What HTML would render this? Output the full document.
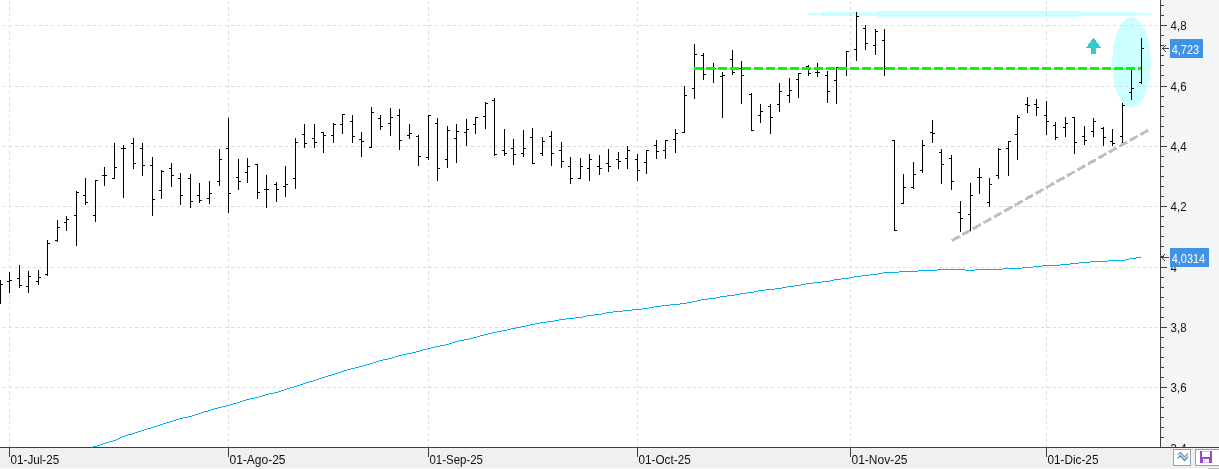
<!DOCTYPE html>
<html lang="es"><head><meta charset="utf-8"><title>Chart</title>
<style>
html,body{margin:0;padding:0;background:#fff;overflow:hidden}
body{width:1219px;height:469px;position:relative;font-family:"Liberation Sans",sans-serif}
svg{position:absolute;left:0;top:0;display:block}
text{font-family:"Liberation Sans",sans-serif;font-size:12.5px;fill:#111}
</style></head><body>
<svg width="1219" height="469" viewBox="0 0 1219 469">

<rect x="0" y="0" width="1219" height="469" fill="#ffffff"/>
<rect x="1161" y="0" width="58" height="447" fill="#f3f5f7" shape-rendering="crispEdges"/>
<rect x="0" y="448" width="1219" height="21" fill="#f0f0f0" shape-rendering="crispEdges"/>
<rect x="0" y="468" width="1208" height="1" fill="#fafafa" shape-rendering="crispEdges"/>
<rect x="1208" y="468" width="11" height="1" fill="#c4c4c4" shape-rendering="crispEdges"/>
<g fill="#ccffff" shape-rendering="crispEdges">
<rect x="808" y="13" width="343" height="2"/>
<rect x="822" y="12" width="315" height="4"/>
<rect x="877" y="11" width="205" height="6"/>
<clipPath id="ce"><rect x="1113" y="0" width="37" height="120"/><rect x="1112" y="57" width="39" height="11"/></clipPath>
<ellipse cx="1131.5" cy="62.5" rx="19.4" ry="45.4" clip-path="url(#ce)"/>
</g>
<g stroke="#dcdcdc" stroke-width="1" shape-rendering="crispEdges" fill="none">
<line x1="3" y1="25.5" x2="1158" y2="25.5" stroke-dasharray="3 3"/>
<line x1="3" y1="86.5" x2="1158" y2="86.5" stroke-dasharray="3 3"/>
<line x1="3" y1="146.5" x2="1158" y2="146.5" stroke-dasharray="3 3"/>
<line x1="3" y1="206.5" x2="1158" y2="206.5" stroke-dasharray="3 3"/>
<line x1="3" y1="267.5" x2="1158" y2="267.5" stroke-dasharray="3 3"/>
<line x1="3" y1="327.5" x2="1158" y2="327.5" stroke-dasharray="3 3"/>
<line x1="3" y1="387.5" x2="1158" y2="387.5" stroke-dasharray="3 3"/>
<line x1="9.5" y1="1" x2="9.5" y2="447" stroke-dasharray="3 3"/>
<line x1="228.5" y1="1" x2="228.5" y2="447" stroke-dasharray="3 3"/>
<line x1="428.5" y1="1" x2="428.5" y2="447" stroke-dasharray="3 3"/>
<line x1="637.5" y1="1" x2="637.5" y2="447" stroke-dasharray="3 3"/>
<line x1="850.5" y1="1" x2="850.5" y2="447" stroke-dasharray="3 3"/>
<line x1="1046.5" y1="1" x2="1046.5" y2="447" stroke-dasharray="3 3"/>
</g>
<g fill="#00aeef" shape-rendering="crispEdges">
<rect x="93" y="446" width="4" height="1"/>
<rect x="97" y="445" width="3" height="1"/>
<rect x="100" y="444" width="3" height="1"/>
<rect x="103" y="443" width="3" height="1"/>
<rect x="106" y="442" width="3" height="1"/>
<rect x="109" y="441" width="4" height="1"/>
<rect x="113" y="440" width="3" height="1"/>
<rect x="116" y="439" width="2" height="1"/>
<rect x="118" y="438" width="2" height="1"/>
<rect x="120" y="437" width="2" height="1"/>
<rect x="122" y="436" width="3" height="1"/>
<rect x="125" y="435" width="3" height="1"/>
<rect x="128" y="434" width="4" height="1"/>
<rect x="132" y="433" width="3" height="1"/>
<rect x="135" y="432" width="3" height="1"/>
<rect x="138" y="431" width="3" height="1"/>
<rect x="141" y="430" width="3" height="1"/>
<rect x="144" y="429" width="3" height="1"/>
<rect x="147" y="428" width="4" height="1"/>
<rect x="151" y="427" width="3" height="1"/>
<rect x="154" y="426" width="3" height="1"/>
<rect x="157" y="425" width="3" height="1"/>
<rect x="160" y="424" width="3" height="1"/>
<rect x="163" y="423" width="3" height="1"/>
<rect x="166" y="422" width="4" height="1"/>
<rect x="170" y="421" width="3" height="1"/>
<rect x="173" y="420" width="3" height="1"/>
<rect x="176" y="419" width="3" height="1"/>
<rect x="179" y="418" width="4" height="1"/>
<rect x="183" y="417" width="5" height="1"/>
<rect x="188" y="416" width="4" height="1"/>
<rect x="192" y="415" width="3" height="1"/>
<rect x="195" y="414" width="3" height="1"/>
<rect x="198" y="413" width="3" height="1"/>
<rect x="201" y="412" width="3" height="1"/>
<rect x="204" y="411" width="4" height="1"/>
<rect x="208" y="410" width="3" height="1"/>
<rect x="211" y="409" width="3" height="1"/>
<rect x="214" y="408" width="4" height="1"/>
<rect x="218" y="407" width="4" height="1"/>
<rect x="222" y="406" width="4" height="1"/>
<rect x="226" y="405" width="4" height="1"/>
<rect x="230" y="404" width="3" height="1"/>
<rect x="233" y="403" width="4" height="1"/>
<rect x="237" y="402" width="3" height="1"/>
<rect x="240" y="401" width="3" height="1"/>
<rect x="243" y="400" width="3" height="1"/>
<rect x="246" y="399" width="4" height="1"/>
<rect x="250" y="398" width="5" height="1"/>
<rect x="255" y="397" width="4" height="1"/>
<rect x="259" y="396" width="3" height="1"/>
<rect x="262" y="395" width="3" height="1"/>
<rect x="265" y="394" width="4" height="1"/>
<rect x="269" y="393" width="5" height="1"/>
<rect x="274" y="392" width="4" height="1"/>
<rect x="278" y="391" width="3" height="1"/>
<rect x="281" y="390" width="3" height="1"/>
<rect x="284" y="389" width="3" height="1"/>
<rect x="287" y="388" width="3" height="1"/>
<rect x="290" y="387" width="4" height="1"/>
<rect x="294" y="386" width="3" height="1"/>
<rect x="297" y="385" width="3" height="1"/>
<rect x="300" y="384" width="3" height="1"/>
<rect x="303" y="383" width="3" height="1"/>
<rect x="306" y="382" width="3" height="1"/>
<rect x="309" y="381" width="4" height="1"/>
<rect x="313" y="380" width="3" height="1"/>
<rect x="316" y="379" width="3" height="1"/>
<rect x="319" y="378" width="3" height="1"/>
<rect x="322" y="377" width="3" height="1"/>
<rect x="325" y="376" width="3" height="1"/>
<rect x="328" y="375" width="4" height="1"/>
<rect x="332" y="374" width="3" height="1"/>
<rect x="335" y="373" width="3" height="1"/>
<rect x="338" y="372" width="3" height="1"/>
<rect x="341" y="371" width="3" height="1"/>
<rect x="344" y="370" width="3" height="1"/>
<rect x="347" y="369" width="4" height="1"/>
<rect x="351" y="368" width="4" height="1"/>
<rect x="355" y="367" width="4" height="1"/>
<rect x="359" y="366" width="4" height="1"/>
<rect x="363" y="365" width="3" height="1"/>
<rect x="366" y="364" width="4" height="1"/>
<rect x="370" y="363" width="3" height="1"/>
<rect x="373" y="362" width="3" height="1"/>
<rect x="376" y="361" width="3" height="1"/>
<rect x="379" y="360" width="4" height="1"/>
<rect x="383" y="359" width="5" height="1"/>
<rect x="388" y="358" width="4" height="1"/>
<rect x="392" y="357" width="3" height="1"/>
<rect x="395" y="356" width="3" height="1"/>
<rect x="398" y="355" width="4" height="1"/>
<rect x="402" y="354" width="5" height="1"/>
<rect x="407" y="353" width="5" height="1"/>
<rect x="412" y="352" width="4" height="1"/>
<rect x="416" y="351" width="4" height="1"/>
<rect x="420" y="350" width="3" height="1"/>
<rect x="423" y="349" width="4" height="1"/>
<rect x="427" y="348" width="4" height="1"/>
<rect x="431" y="347" width="4" height="1"/>
<rect x="435" y="346" width="5" height="1"/>
<rect x="440" y="345" width="5" height="1"/>
<rect x="445" y="344" width="4" height="1"/>
<rect x="449" y="343" width="3" height="1"/>
<rect x="452" y="342" width="3" height="1"/>
<rect x="455" y="341" width="4" height="1"/>
<rect x="459" y="340" width="5" height="1"/>
<rect x="464" y="339" width="5" height="1"/>
<rect x="469" y="338" width="4" height="1"/>
<rect x="473" y="337" width="4" height="1"/>
<rect x="477" y="336" width="3" height="1"/>
<rect x="480" y="335" width="4" height="1"/>
<rect x="484" y="334" width="4" height="1"/>
<rect x="488" y="333" width="4" height="1"/>
<rect x="492" y="332" width="5" height="1"/>
<rect x="497" y="331" width="5" height="1"/>
<rect x="502" y="330" width="5" height="1"/>
<rect x="507" y="329" width="4" height="1"/>
<rect x="511" y="328" width="5" height="1"/>
<rect x="516" y="327" width="5" height="1"/>
<rect x="521" y="326" width="5" height="1"/>
<rect x="526" y="325" width="4" height="1"/>
<rect x="530" y="324" width="5" height="1"/>
<rect x="535" y="323" width="5" height="1"/>
<rect x="540" y="322" width="7" height="1"/>
<rect x="547" y="321" width="7" height="1"/>
<rect x="554" y="320" width="5" height="1"/>
<rect x="559" y="319" width="7" height="1"/>
<rect x="566" y="318" width="9" height="1"/>
<rect x="575" y="317" width="8" height="1"/>
<rect x="583" y="316" width="4" height="1"/>
<rect x="587" y="315" width="7" height="1"/>
<rect x="594" y="314" width="8" height="1"/>
<rect x="602" y="313" width="4" height="1"/>
<rect x="606" y="312" width="7" height="1"/>
<rect x="613" y="311" width="10" height="1"/>
<rect x="623" y="310" width="9" height="1"/>
<rect x="632" y="309" width="10" height="1"/>
<rect x="642" y="308" width="7" height="1"/>
<rect x="649" y="307" width="5" height="1"/>
<rect x="654" y="306" width="7" height="1"/>
<rect x="661" y="305" width="9" height="1"/>
<rect x="670" y="304" width="10" height="1"/>
<rect x="680" y="303" width="7" height="1"/>
<rect x="687" y="302" width="5" height="1"/>
<rect x="692" y="301" width="5" height="1"/>
<rect x="697" y="300" width="4" height="1"/>
<rect x="701" y="299" width="7" height="1"/>
<rect x="708" y="298" width="8" height="1"/>
<rect x="716" y="297" width="4" height="1"/>
<rect x="720" y="296" width="7" height="1"/>
<rect x="727" y="295" width="8" height="1"/>
<rect x="735" y="294" width="5" height="1"/>
<rect x="740" y="293" width="7" height="1"/>
<rect x="747" y="292" width="7" height="1"/>
<rect x="754" y="291" width="4" height="1"/>
<rect x="758" y="290" width="7" height="1"/>
<rect x="765" y="289" width="10" height="1"/>
<rect x="775" y="288" width="7" height="1"/>
<rect x="782" y="287" width="5" height="1"/>
<rect x="787" y="286" width="7" height="1"/>
<rect x="794" y="285" width="7" height="1"/>
<rect x="801" y="284" width="5" height="1"/>
<rect x="806" y="283" width="7" height="1"/>
<rect x="813" y="282" width="9" height="1"/>
<rect x="822" y="281" width="8" height="1"/>
<rect x="830" y="280" width="4" height="1"/>
<rect x="834" y="279" width="7" height="1"/>
<rect x="841" y="278" width="8" height="1"/>
<rect x="849" y="277" width="5" height="1"/>
<rect x="854" y="276" width="7" height="1"/>
<rect x="861" y="275" width="9" height="1"/>
<rect x="870" y="274" width="8" height="1"/>
<rect x="878" y="273" width="5" height="1"/>
<rect x="883" y="272" width="16" height="1"/>
<rect x="899" y="271" width="19" height="1"/>
<rect x="918" y="270" width="19" height="1"/>
<rect x="937" y="269" width="28" height="1"/>
<rect x="965" y="270" width="10" height="1"/>
<rect x="975" y="269" width="28" height="1"/>
<rect x="1003" y="268" width="19" height="1"/>
<rect x="1022" y="267" width="11" height="1"/>
<rect x="1033" y="266" width="9" height="1"/>
<rect x="1042" y="265" width="18" height="1"/>
<rect x="1060" y="264" width="10" height="1"/>
<rect x="1070" y="263" width="9" height="1"/>
<rect x="1079" y="262" width="11" height="1"/>
<rect x="1090" y="261" width="18" height="1"/>
<rect x="1108" y="260" width="17" height="1"/>
<rect x="1125" y="259" width="4" height="1"/>
<rect x="1129" y="258" width="7" height="1"/>
<rect x="1136" y="257" width="5" height="1"/>
</g>
<g fill="#000" shape-rendering="crispEdges">
<rect x="0" y="280" width="1" height="24"/>
<rect x="1" y="284" width="2" height="1"/>
<rect x="9" y="272" width="1" height="21"/>
<rect x="7" y="281" width="2" height="1"/>
<rect x="10" y="280" width="2" height="1"/>
<rect x="19" y="265" width="1" height="23"/>
<rect x="17" y="278" width="2" height="1"/>
<rect x="20" y="285" width="2" height="1"/>
<rect x="28" y="271" width="1" height="22"/>
<rect x="26" y="286" width="2" height="1"/>
<rect x="29" y="276" width="2" height="1"/>
<rect x="38" y="270" width="1" height="15"/>
<rect x="36" y="281" width="2" height="1"/>
<rect x="39" y="277" width="2" height="1"/>
<rect x="47" y="240" width="1" height="36"/>
<rect x="45" y="274" width="2" height="1"/>
<rect x="48" y="243" width="2" height="1"/>
<rect x="57" y="220" width="1" height="22"/>
<rect x="55" y="240" width="2" height="1"/>
<rect x="58" y="227" width="2" height="1"/>
<rect x="66" y="216" width="1" height="15"/>
<rect x="64" y="222" width="2" height="1"/>
<rect x="67" y="219" width="2" height="1"/>
<rect x="76" y="191" width="1" height="55"/>
<rect x="74" y="215" width="2" height="1"/>
<rect x="77" y="192" width="2" height="1"/>
<rect x="85" y="178" width="1" height="27"/>
<rect x="83" y="195" width="2" height="1"/>
<rect x="86" y="202" width="2" height="1"/>
<rect x="95" y="180" width="1" height="42"/>
<rect x="93" y="215" width="2" height="1"/>
<rect x="96" y="180" width="2" height="1"/>
<rect x="104" y="167" width="1" height="19"/>
<rect x="102" y="175" width="2" height="1"/>
<rect x="105" y="175" width="2" height="1"/>
<rect x="114" y="143" width="1" height="36"/>
<rect x="112" y="178" width="2" height="1"/>
<rect x="115" y="167" width="2" height="1"/>
<rect x="123" y="145" width="1" height="53"/>
<rect x="121" y="148" width="2" height="1"/>
<rect x="124" y="148" width="2" height="1"/>
<rect x="133" y="138" width="1" height="31"/>
<rect x="131" y="143" width="2" height="1"/>
<rect x="134" y="163" width="2" height="1"/>
<rect x="142" y="143" width="1" height="33"/>
<rect x="140" y="148" width="2" height="1"/>
<rect x="143" y="165" width="2" height="1"/>
<rect x="152" y="157" width="1" height="59"/>
<rect x="150" y="165" width="2" height="1"/>
<rect x="153" y="199" width="2" height="1"/>
<rect x="161" y="170" width="1" height="29"/>
<rect x="159" y="190" width="2" height="1"/>
<rect x="162" y="171" width="2" height="1"/>
<rect x="171" y="163" width="1" height="24"/>
<rect x="169" y="168" width="2" height="1"/>
<rect x="172" y="175" width="2" height="1"/>
<rect x="180" y="173" width="1" height="32"/>
<rect x="178" y="178" width="2" height="1"/>
<rect x="181" y="195" width="2" height="1"/>
<rect x="190" y="174" width="1" height="34"/>
<rect x="188" y="178" width="2" height="1"/>
<rect x="191" y="201" width="2" height="1"/>
<rect x="199" y="183" width="1" height="20"/>
<rect x="197" y="195" width="2" height="1"/>
<rect x="200" y="200" width="2" height="1"/>
<rect x="209" y="181" width="1" height="23"/>
<rect x="207" y="198" width="2" height="1"/>
<rect x="210" y="193" width="2" height="1"/>
<rect x="219" y="149" width="1" height="37"/>
<rect x="217" y="181" width="2" height="1"/>
<rect x="220" y="159" width="2" height="1"/>
<rect x="228" y="118" width="1" height="95"/>
<rect x="226" y="148" width="2" height="1"/>
<rect x="229" y="193" width="2" height="1"/>
<rect x="238" y="159" width="1" height="31"/>
<rect x="236" y="177" width="2" height="1"/>
<rect x="239" y="181" width="2" height="1"/>
<rect x="247" y="158" width="1" height="25"/>
<rect x="245" y="172" width="2" height="1"/>
<rect x="248" y="166" width="2" height="1"/>
<rect x="257" y="164" width="1" height="35"/>
<rect x="255" y="164" width="2" height="1"/>
<rect x="258" y="192" width="2" height="1"/>
<rect x="266" y="175" width="1" height="33"/>
<rect x="264" y="189" width="2" height="1"/>
<rect x="267" y="189" width="2" height="1"/>
<rect x="276" y="182" width="1" height="20"/>
<rect x="274" y="184" width="2" height="1"/>
<rect x="277" y="189" width="2" height="1"/>
<rect x="285" y="166" width="1" height="31"/>
<rect x="283" y="186" width="2" height="1"/>
<rect x="286" y="184" width="2" height="1"/>
<rect x="295" y="138" width="1" height="51"/>
<rect x="293" y="178" width="2" height="1"/>
<rect x="296" y="142" width="2" height="1"/>
<rect x="304" y="124" width="1" height="24"/>
<rect x="302" y="134" width="2" height="1"/>
<rect x="305" y="143" width="2" height="1"/>
<rect x="314" y="124" width="1" height="24"/>
<rect x="312" y="138" width="2" height="1"/>
<rect x="315" y="142" width="2" height="1"/>
<rect x="323" y="132" width="1" height="21"/>
<rect x="321" y="132" width="2" height="1"/>
<rect x="324" y="135" width="2" height="1"/>
<rect x="333" y="123" width="1" height="20"/>
<rect x="331" y="135" width="2" height="1"/>
<rect x="334" y="124" width="2" height="1"/>
<rect x="342" y="114" width="1" height="20"/>
<rect x="340" y="124" width="2" height="1"/>
<rect x="343" y="114" width="2" height="1"/>
<rect x="352" y="115" width="1" height="28"/>
<rect x="350" y="121" width="2" height="1"/>
<rect x="353" y="136" width="2" height="1"/>
<rect x="361" y="132" width="1" height="25"/>
<rect x="359" y="139" width="2" height="1"/>
<rect x="362" y="141" width="2" height="1"/>
<rect x="371" y="107" width="1" height="41"/>
<rect x="369" y="147" width="2" height="1"/>
<rect x="372" y="112" width="2" height="1"/>
<rect x="380" y="115" width="1" height="15"/>
<rect x="378" y="118" width="2" height="1"/>
<rect x="381" y="126" width="2" height="1"/>
<rect x="390" y="108" width="1" height="28"/>
<rect x="388" y="123" width="2" height="1"/>
<rect x="391" y="117" width="2" height="1"/>
<rect x="399" y="109" width="1" height="41"/>
<rect x="397" y="115" width="2" height="1"/>
<rect x="400" y="140" width="2" height="1"/>
<rect x="409" y="124" width="1" height="15"/>
<rect x="407" y="135" width="2" height="1"/>
<rect x="410" y="133" width="2" height="1"/>
<rect x="418" y="135" width="1" height="31"/>
<rect x="416" y="136" width="2" height="1"/>
<rect x="419" y="156" width="2" height="1"/>
<rect x="428" y="115" width="1" height="45"/>
<rect x="426" y="157" width="2" height="1"/>
<rect x="429" y="115" width="2" height="1"/>
<rect x="437" y="118" width="1" height="63"/>
<rect x="435" y="123" width="2" height="1"/>
<rect x="438" y="168" width="2" height="1"/>
<rect x="447" y="126" width="1" height="42"/>
<rect x="445" y="159" width="2" height="1"/>
<rect x="448" y="130" width="2" height="1"/>
<rect x="456" y="124" width="1" height="39"/>
<rect x="454" y="138" width="2" height="1"/>
<rect x="457" y="131" width="2" height="1"/>
<rect x="466" y="119" width="1" height="27"/>
<rect x="464" y="132" width="2" height="1"/>
<rect x="467" y="129" width="2" height="1"/>
<rect x="475" y="117" width="1" height="17"/>
<rect x="473" y="124" width="2" height="1"/>
<rect x="476" y="117" width="2" height="1"/>
<rect x="485" y="102" width="1" height="27"/>
<rect x="483" y="116" width="2" height="1"/>
<rect x="486" y="103" width="2" height="1"/>
<rect x="494" y="98" width="1" height="58"/>
<rect x="492" y="100" width="2" height="1"/>
<rect x="495" y="154" width="2" height="1"/>
<rect x="504" y="129" width="1" height="27"/>
<rect x="502" y="150" width="2" height="1"/>
<rect x="505" y="153" width="2" height="1"/>
<rect x="513" y="139" width="1" height="26"/>
<rect x="511" y="148" width="2" height="1"/>
<rect x="514" y="154" width="2" height="1"/>
<rect x="523" y="130" width="1" height="27"/>
<rect x="521" y="153" width="2" height="1"/>
<rect x="524" y="148" width="2" height="1"/>
<rect x="532" y="128" width="1" height="36"/>
<rect x="530" y="137" width="2" height="1"/>
<rect x="533" y="163" width="2" height="1"/>
<rect x="542" y="137" width="1" height="19"/>
<rect x="540" y="153" width="2" height="1"/>
<rect x="543" y="141" width="2" height="1"/>
<rect x="551" y="131" width="1" height="35"/>
<rect x="549" y="136" width="2" height="1"/>
<rect x="552" y="153" width="2" height="1"/>
<rect x="561" y="142" width="1" height="26"/>
<rect x="559" y="150" width="2" height="1"/>
<rect x="562" y="161" width="2" height="1"/>
<rect x="570" y="157" width="1" height="27"/>
<rect x="568" y="166" width="2" height="1"/>
<rect x="571" y="178" width="2" height="1"/>
<rect x="580" y="158" width="1" height="21"/>
<rect x="578" y="178" width="2" height="1"/>
<rect x="581" y="166" width="2" height="1"/>
<rect x="589" y="154" width="1" height="27"/>
<rect x="587" y="168" width="2" height="1"/>
<rect x="590" y="159" width="2" height="1"/>
<rect x="599" y="155" width="1" height="20"/>
<rect x="597" y="166" width="2" height="1"/>
<rect x="600" y="168" width="2" height="1"/>
<rect x="608" y="149" width="1" height="23"/>
<rect x="606" y="163" width="2" height="1"/>
<rect x="609" y="166" width="2" height="1"/>
<rect x="618" y="152" width="1" height="17"/>
<rect x="616" y="159" width="2" height="1"/>
<rect x="619" y="161" width="2" height="1"/>
<rect x="627" y="146" width="1" height="23"/>
<rect x="625" y="158" width="2" height="1"/>
<rect x="628" y="150" width="2" height="1"/>
<rect x="637" y="154" width="1" height="27"/>
<rect x="635" y="159" width="2" height="1"/>
<rect x="638" y="170" width="2" height="1"/>
<rect x="646" y="150" width="1" height="24"/>
<rect x="644" y="162" width="2" height="1"/>
<rect x="647" y="150" width="2" height="1"/>
<rect x="656" y="140" width="1" height="19"/>
<rect x="654" y="145" width="2" height="1"/>
<rect x="657" y="151" width="2" height="1"/>
<rect x="665" y="140" width="1" height="19"/>
<rect x="663" y="150" width="2" height="1"/>
<rect x="666" y="140" width="2" height="1"/>
<rect x="675" y="129" width="1" height="24"/>
<rect x="673" y="139" width="2" height="1"/>
<rect x="676" y="133" width="2" height="1"/>
<rect x="684" y="86" width="1" height="47"/>
<rect x="682" y="132" width="2" height="1"/>
<rect x="685" y="95" width="2" height="1"/>
<rect x="694" y="44" width="1" height="55"/>
<rect x="692" y="88" width="2" height="1"/>
<rect x="695" y="54" width="2" height="1"/>
<rect x="703" y="53" width="1" height="27"/>
<rect x="701" y="55" width="2" height="1"/>
<rect x="704" y="74" width="2" height="1"/>
<rect x="713" y="63" width="1" height="20"/>
<rect x="711" y="68" width="2" height="1"/>
<rect x="714" y="68" width="2" height="1"/>
<rect x="722" y="72" width="1" height="46"/>
<rect x="720" y="76" width="2" height="1"/>
<rect x="723" y="75" width="2" height="1"/>
<rect x="732" y="50" width="1" height="25"/>
<rect x="730" y="59" width="2" height="1"/>
<rect x="733" y="72" width="2" height="1"/>
<rect x="741" y="61" width="1" height="43"/>
<rect x="739" y="68" width="2" height="1"/>
<rect x="742" y="75" width="2" height="1"/>
<rect x="751" y="93" width="1" height="38"/>
<rect x="749" y="94" width="2" height="1"/>
<rect x="752" y="130" width="2" height="1"/>
<rect x="760" y="104" width="1" height="19"/>
<rect x="758" y="115" width="2" height="1"/>
<rect x="761" y="111" width="2" height="1"/>
<rect x="770" y="104" width="1" height="30"/>
<rect x="768" y="106" width="2" height="1"/>
<rect x="771" y="117" width="2" height="1"/>
<rect x="779" y="83" width="1" height="29"/>
<rect x="777" y="104" width="2" height="1"/>
<rect x="780" y="91" width="2" height="1"/>
<rect x="789" y="78" width="1" height="25"/>
<rect x="787" y="95" width="2" height="1"/>
<rect x="790" y="90" width="2" height="1"/>
<rect x="798" y="73" width="1" height="25"/>
<rect x="796" y="79" width="2" height="1"/>
<rect x="799" y="73" width="2" height="1"/>
<rect x="808" y="65" width="1" height="11"/>
<rect x="806" y="66" width="2" height="1"/>
<rect x="809" y="73" width="2" height="1"/>
<rect x="817" y="63" width="1" height="14"/>
<rect x="815" y="72" width="2" height="1"/>
<rect x="818" y="72" width="2" height="1"/>
<rect x="827" y="71" width="1" height="32"/>
<rect x="825" y="75" width="2" height="1"/>
<rect x="828" y="91" width="2" height="1"/>
<rect x="836" y="67" width="1" height="37"/>
<rect x="834" y="80" width="2" height="1"/>
<rect x="837" y="67" width="2" height="1"/>
<rect x="846" y="51" width="1" height="25"/>
<rect x="844" y="68" width="2" height="1"/>
<rect x="847" y="51" width="2" height="1"/>
<rect x="856" y="12" width="1" height="49"/>
<rect x="854" y="49" width="2" height="1"/>
<rect x="857" y="16" width="2" height="1"/>
<rect x="865" y="25" width="1" height="25"/>
<rect x="863" y="28" width="2" height="1"/>
<rect x="866" y="43" width="2" height="1"/>
<rect x="875" y="29" width="1" height="26"/>
<rect x="873" y="45" width="2" height="1"/>
<rect x="876" y="31" width="2" height="1"/>
<rect x="884" y="29" width="1" height="47"/>
<rect x="882" y="40" width="2" height="1"/>
<rect x="885" y="68" width="2" height="1"/>
<rect x="894" y="140" width="1" height="91"/>
<rect x="892" y="140" width="2" height="1"/>
<rect x="895" y="230" width="2" height="1"/>
<rect x="903" y="174" width="1" height="30"/>
<rect x="901" y="203" width="2" height="1"/>
<rect x="904" y="187" width="2" height="1"/>
<rect x="913" y="162" width="1" height="27"/>
<rect x="911" y="187" width="2" height="1"/>
<rect x="914" y="174" width="2" height="1"/>
<rect x="922" y="140" width="1" height="33"/>
<rect x="920" y="170" width="2" height="1"/>
<rect x="923" y="145" width="2" height="1"/>
<rect x="932" y="120" width="1" height="23"/>
<rect x="930" y="132" width="2" height="1"/>
<rect x="933" y="133" width="2" height="1"/>
<rect x="941" y="149" width="1" height="35"/>
<rect x="939" y="152" width="2" height="1"/>
<rect x="942" y="164" width="2" height="1"/>
<rect x="951" y="155" width="1" height="35"/>
<rect x="949" y="158" width="2" height="1"/>
<rect x="952" y="181" width="2" height="1"/>
<rect x="960" y="201" width="1" height="31"/>
<rect x="958" y="212" width="2" height="1"/>
<rect x="961" y="218" width="2" height="1"/>
<rect x="970" y="183" width="1" height="48"/>
<rect x="968" y="214" width="2" height="1"/>
<rect x="971" y="195" width="2" height="1"/>
<rect x="979" y="168" width="1" height="26"/>
<rect x="977" y="177" width="2" height="1"/>
<rect x="980" y="177" width="2" height="1"/>
<rect x="989" y="178" width="1" height="29"/>
<rect x="987" y="202" width="2" height="1"/>
<rect x="990" y="184" width="2" height="1"/>
<rect x="998" y="148" width="1" height="31"/>
<rect x="996" y="175" width="2" height="1"/>
<rect x="999" y="149" width="2" height="1"/>
<rect x="1008" y="141" width="1" height="35"/>
<rect x="1006" y="148" width="2" height="1"/>
<rect x="1009" y="141" width="2" height="1"/>
<rect x="1017" y="115" width="1" height="45"/>
<rect x="1015" y="134" width="2" height="1"/>
<rect x="1018" y="117" width="2" height="1"/>
<rect x="1027" y="97" width="1" height="16"/>
<rect x="1025" y="104" width="2" height="1"/>
<rect x="1028" y="105" width="2" height="1"/>
<rect x="1036" y="99" width="1" height="17"/>
<rect x="1034" y="104" width="2" height="1"/>
<rect x="1037" y="107" width="2" height="1"/>
<rect x="1046" y="101" width="1" height="34"/>
<rect x="1044" y="115" width="2" height="1"/>
<rect x="1047" y="121" width="2" height="1"/>
<rect x="1055" y="122" width="1" height="18"/>
<rect x="1053" y="125" width="2" height="1"/>
<rect x="1056" y="137" width="2" height="1"/>
<rect x="1065" y="117" width="1" height="20"/>
<rect x="1063" y="127" width="2" height="1"/>
<rect x="1066" y="123" width="2" height="1"/>
<rect x="1074" y="117" width="1" height="37"/>
<rect x="1072" y="117" width="2" height="1"/>
<rect x="1075" y="142" width="2" height="1"/>
<rect x="1084" y="126" width="1" height="19"/>
<rect x="1082" y="136" width="2" height="1"/>
<rect x="1085" y="140" width="2" height="1"/>
<rect x="1093" y="118" width="1" height="19"/>
<rect x="1091" y="131" width="2" height="1"/>
<rect x="1094" y="121" width="2" height="1"/>
<rect x="1103" y="127" width="1" height="19"/>
<rect x="1101" y="128" width="2" height="1"/>
<rect x="1104" y="137" width="2" height="1"/>
<rect x="1112" y="129" width="1" height="17"/>
<rect x="1110" y="141" width="2" height="1"/>
<rect x="1113" y="143" width="2" height="1"/>
<rect x="1122" y="103" width="1" height="40"/>
<rect x="1120" y="136" width="2" height="1"/>
<rect x="1123" y="105" width="2" height="1"/>
<rect x="1131" y="70" width="1" height="30"/>
<rect x="1129" y="92" width="2" height="1"/>
<rect x="1132" y="88" width="2" height="1"/>
<rect x="1141" y="38" width="1" height="46"/>
<rect x="1139" y="82" width="2" height="1"/>
<rect x="1142" y="48" width="2" height="1"/>
</g>
<line x1="952" y1="240.6" x2="1148" y2="130.3" stroke="#c0c0c0" stroke-width="3" stroke-dasharray="9 3" shape-rendering="crispEdges"/>
<g fill="#00ff00" shape-rendering="crispEdges">
<rect x="694" y="67" width="9" height="3"/>
<rect x="706" y="67" width="9" height="3"/>
<rect x="718" y="67" width="9" height="3"/>
<rect x="730" y="67" width="9" height="3"/>
<rect x="742" y="67" width="9" height="3"/>
<rect x="754" y="67" width="9" height="3"/>
<rect x="766" y="67" width="9" height="3"/>
<rect x="778" y="67" width="9" height="3"/>
<rect x="790" y="67" width="9" height="3"/>
<rect x="802" y="67" width="9" height="3"/>
<rect x="814" y="67" width="9" height="3"/>
<rect x="826" y="67" width="9" height="3"/>
<rect x="838" y="67" width="9" height="3"/>
<rect x="850" y="67" width="9" height="3"/>
<rect x="862" y="67" width="9" height="3"/>
<rect x="874" y="67" width="9" height="3"/>
<rect x="886" y="67" width="9" height="3"/>
<rect x="898" y="67" width="9" height="3"/>
<rect x="910" y="67" width="9" height="3"/>
<rect x="922" y="67" width="9" height="3"/>
<rect x="934" y="67" width="9" height="3"/>
<rect x="946" y="67" width="9" height="3"/>
<rect x="958" y="67" width="9" height="3"/>
<rect x="970" y="67" width="9" height="3"/>
<rect x="982" y="67" width="9" height="3"/>
<rect x="994" y="67" width="9" height="3"/>
<rect x="1006" y="67" width="9" height="3"/>
<rect x="1018" y="67" width="9" height="3"/>
<rect x="1030" y="67" width="9" height="3"/>
<rect x="1042" y="67" width="9" height="3"/>
<rect x="1054" y="67" width="9" height="3"/>
<rect x="1066" y="67" width="9" height="3"/>
<rect x="1078" y="67" width="9" height="3"/>
<rect x="1090" y="67" width="9" height="3"/>
<rect x="1102" y="67" width="9" height="3"/>
<rect x="1114" y="67" width="9" height="3"/>
<rect x="1126" y="67" width="9" height="3"/>
<rect x="1138" y="67" width="3" height="3"/>
</g>
<g fill="#33cccc" shape-rendering="crispEdges">
<rect x="1093" y="38" width="1" height="1"/>
<rect x="1092" y="39" width="3" height="1"/>
<rect x="1091" y="40" width="5" height="1"/>
<rect x="1091" y="41" width="5" height="1"/>
<rect x="1090" y="42" width="7" height="1"/>
<rect x="1089" y="43" width="9" height="1"/>
<rect x="1088" y="44" width="11" height="1"/>
<rect x="1088" y="45" width="11" height="1"/>
<rect x="1087" y="46" width="13" height="1"/>
<rect x="1086" y="47" width="15" height="1"/>
<rect x="1091" y="48" width="5" height="6"/></g>
<g fill="#404040" shape-rendering="crispEdges">
<rect x="1160" y="0" width="1" height="448"/>
<rect x="0" y="447" width="1219" height="1"/>
<rect x="9" y="447" width="1" height="10"/>
<rect x="228" y="447" width="1" height="10"/>
<rect x="428" y="447" width="1" height="10"/>
<rect x="637" y="447" width="1" height="10"/>
<rect x="850" y="447" width="1" height="10"/>
<rect x="1046" y="447" width="1" height="10"/>
<rect x="1161" y="5" width="3" height="1"/>
<rect x="1161" y="15" width="3" height="1"/>
<rect x="1161" y="25" width="6" height="1"/>
<rect x="1161" y="35" width="3" height="1"/>
<rect x="1161" y="45" width="3" height="1"/>
<rect x="1161" y="55" width="3" height="1"/>
<rect x="1161" y="65" width="3" height="1"/>
<rect x="1161" y="75" width="3" height="1"/>
<rect x="1161" y="86" width="6" height="1"/>
<rect x="1161" y="96" width="3" height="1"/>
<rect x="1161" y="106" width="3" height="1"/>
<rect x="1161" y="116" width="3" height="1"/>
<rect x="1161" y="126" width="3" height="1"/>
<rect x="1161" y="136" width="3" height="1"/>
<rect x="1161" y="146" width="6" height="1"/>
<rect x="1161" y="156" width="3" height="1"/>
<rect x="1161" y="166" width="3" height="1"/>
<rect x="1161" y="176" width="3" height="1"/>
<rect x="1161" y="186" width="3" height="1"/>
<rect x="1161" y="196" width="3" height="1"/>
<rect x="1161" y="206" width="6" height="1"/>
<rect x="1161" y="216" width="3" height="1"/>
<rect x="1161" y="226" width="3" height="1"/>
<rect x="1161" y="236" width="3" height="1"/>
<rect x="1161" y="246" width="3" height="1"/>
<rect x="1161" y="256" width="3" height="1"/>
<rect x="1161" y="267" width="6" height="1"/>
<rect x="1161" y="277" width="3" height="1"/>
<rect x="1161" y="287" width="3" height="1"/>
<rect x="1161" y="297" width="3" height="1"/>
<rect x="1161" y="307" width="3" height="1"/>
<rect x="1161" y="317" width="3" height="1"/>
<rect x="1161" y="327" width="6" height="1"/>
<rect x="1161" y="337" width="3" height="1"/>
<rect x="1161" y="347" width="3" height="1"/>
<rect x="1161" y="357" width="3" height="1"/>
<rect x="1161" y="367" width="3" height="1"/>
<rect x="1161" y="377" width="3" height="1"/>
<rect x="1161" y="387" width="6" height="1"/>
<rect x="1161" y="397" width="3" height="1"/>
<rect x="1161" y="407" width="3" height="1"/>
<rect x="1161" y="417" width="3" height="1"/>
<rect x="1161" y="427" width="3" height="1"/>
<rect x="1161" y="437" width="3" height="1"/>
</g>
<text transform="translate(1170.6 29.9) scale(0.92 1)">4,8</text>
<text transform="translate(1170.6 90.9) scale(0.92 1)">4,6</text>
<text transform="translate(1170.6 150.9) scale(0.92 1)">4,4</text>
<text transform="translate(1170.6 210.9) scale(0.92 1)">4,2</text>
<text transform="translate(1170.6 271.9) scale(0.92 1)">4</text>
<text transform="translate(1170.6 331.9) scale(0.92 1)">3,8</text>
<text transform="translate(1170.6 391.9) scale(0.92 1)">3,6</text>
<clipPath id="c1"><rect x="1161" y="0" width="58" height="447"/></clipPath>
<g clip-path="url(#c1)">
<text transform="translate(1170.6 453) scale(0.92 1)">3,4</text>
</g>
<rect x="1170" y="39" width="33" height="19" fill="#3e92e8" shape-rendering="crispEdges"/>
<text transform="translate(1171.7 53.9) scale(0.875 1)" style="fill:#fff">4,723</text>
<g fill="#404040" shape-rendering="crispEdges"><rect x="1162" y="48" width="7" height="1"/><rect x="1163" y="47" width="1" height="1"/><rect x="1163" y="49" width="1" height="1"/><rect x="1164" y="46" width="1" height="1"/><rect x="1164" y="50" width="1" height="1"/><rect x="1165" y="45" width="1" height="1"/><rect x="1165" y="51" width="1" height="1"/></g>
<rect x="1170" y="248" width="39" height="19" fill="#3e92e8" shape-rendering="crispEdges"/>
<text transform="translate(1171.7 262.9) scale(0.875 1)" style="fill:#fff">4,0314</text>
<g fill="#404040" shape-rendering="crispEdges"><rect x="1161" y="257" width="8" height="1"/><rect x="1162" y="256" width="1" height="1"/><rect x="1162" y="258" width="1" height="1"/><rect x="1163" y="255" width="1" height="1"/><rect x="1163" y="259" width="1" height="1"/><rect x="1164" y="254" width="1" height="1"/><rect x="1164" y="260" width="1" height="1"/></g>
<text transform="translate(10.5 464) scale(0.935 1)">01-Jul-25</text>
<text transform="translate(229.5 464) scale(0.96 1)">01-Ago-25</text>
<text transform="translate(429.5 464) scale(0.915 1)">01-Sep-25</text>
<text transform="translate(638.5 464) scale(0.94 1)">01-Oct-25</text>
<text transform="translate(851.5 464) scale(0.96 1)">01-Nov-25</text>
<text transform="translate(1047.5 464) scale(0.94 1)">01-Dic-25</text>
<g shape-rendering="crispEdges"><rect x="1173.5" y="449.5" width="17" height="16" fill="#fff" stroke="#a0a0a0"/><rect x="1195.5" y="449.5" width="30" height="16" fill="#fff" stroke="#a0a0a0"/></g>
<polyline points="1178,455 1180.5,452.5 1184.5,457 1188,453.5" fill="none" stroke="#909090" stroke-width="1.3"/>
<polyline points="1178,458.3 1180.5,455.8 1184.5,460.3 1188,456.8" fill="none" stroke="#3a9ad9" stroke-width="1.5"/>
<g shape-rendering="crispEdges"><rect x="1200" y="451" width="12" height="12" fill="#8a52c6"/><rect x="1202" y="452" width="8" height="5" fill="#fff"/><rect x="1202" y="451" width="8" height="1" fill="#d9c2f0"/><rect x="1203" y="459" width="6" height="3" fill="#fff"/><rect x="1203" y="462" width="6" height="1" fill="#d9c2f0"/><rect x="1204" y="460" width="1" height="1" fill="#8a52c6"/></g>
</svg>
</body></html>
